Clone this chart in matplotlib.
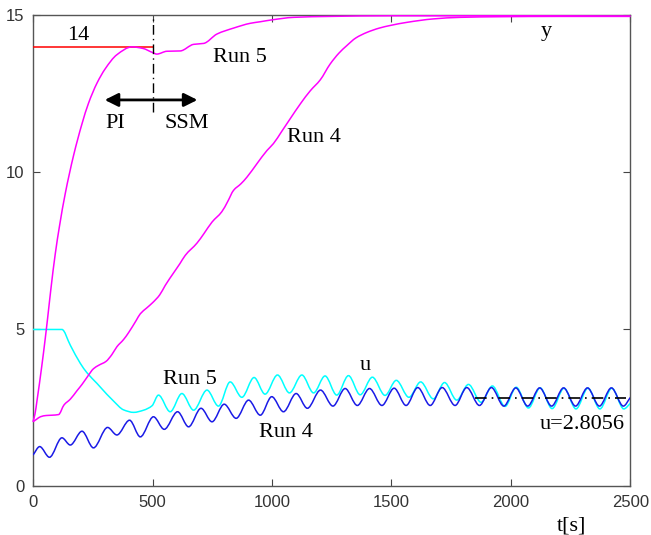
import numpy as np
import matplotlib
matplotlib.use("Agg")
import matplotlib.pyplot as plt
from matplotlib.path import Path
from matplotlib.patches import PathPatch

# ---------------- data ----------------
t_y5 = [0, 8, 17, 37, 51, 61, 75, 93, 111, 135, 170, 205, 232, 268, 302, 351, 414,
        460, 500, 518, 560, 616, 672, 714, 770, 840, 909, 951, 1000, 1090, 1243,
        1500, 2000, 2500]
y_run5 = [2.06, 2.3, 2.75, 3.85, 4.7, 5.35, 6.3, 7.4, 8.3, 9.33, 10.55, 11.55,
          12.2, 12.85, 13.3, 13.75, 14.0, 13.95, 13.82, 13.77, 13.86, 13.87, 14.08,
          14.11, 14.41, 14.6, 14.75, 14.8, 14.86, 14.94, 14.97, 14.99, 14.99, 14.98]

t_y4 = [0, 15, 31, 55, 80, 107, 130, 156, 184, 205, 230, 253, 275, 305, 330, 351,
        379, 400, 432, 449, 475, 500, 530, 553, 588, 615, 637, 686, 715, 749, 790,
        815, 839, 870, 895, 937, 979, 1006, 1040, 1076, 1120, 1160, 1202, 1243, 1280,
        1313, 1350, 1397, 1450, 1494, 1564, 1675, 1787, 1954, 2200, 2500]
y_run4 = [2.06, 2.14, 2.22, 2.26, 2.27, 2.29, 2.6, 2.78, 3.05, 3.25, 3.52, 3.75,
          3.86, 3.98, 4.2, 4.45, 4.68, 4.9, 5.29, 5.5, 5.68, 5.85, 6.1, 6.4, 6.8, 7.1,
          7.36, 7.75, 8.05, 8.42, 8.75, 9.08, 9.43, 9.64, 9.85, 10.28, 10.7, 10.92,
          11.3, 11.71, 12.2, 12.6, 12.95, 13.45, 13.8, 14.04, 14.28, 14.46, 14.6,
          14.68, 14.78, 14.89, 14.94, 14.96, 14.97, 14.97]

t_u5 = [0, 121, 156, 198, 226, 268, 281, 337, 379, 421, 463, 498,
        525, 574, 623, 672, 728, 776, 825, 874, 925, 971, 1023, 1073, 1125, 1174,
        1222, 1271, 1320, 1369, 1420, 1473, 1520, 1573, 1622, 1675, 1722, 1773,
        1822, 1875, 1922, 1975, 2022, 2073, 2122, 2172, 2222, 2272, 2322, 2372,
        2422, 2472, 2500]
u_run5 = [5.0, 5.0, 4.5, 3.92, 3.62, 3.28, 3.17, 2.72, 2.44, 2.36, 2.43, 2.57,
          2.91, 2.38, 2.96, 2.43, 3.07, 2.56, 3.33, 2.84, 3.47, 2.94, 3.55, 2.98,
          3.55, 2.98, 3.52, 2.91, 3.53, 2.92, 3.48, 2.90, 3.38, 2.84, 3.33, 2.79,
          3.31, 2.75, 3.25, 2.68, 3.20, 2.55, 3.16, 2.50, 3.14, 2.48, 3.13, 2.47,
          3.13, 2.47, 3.13, 2.47, 2.65]

t_u4 = [0, 28, 69, 121, 156, 205, 253, 312, 351, 404, 449, 504, 549, 605, 651, 703,
        749, 800, 850, 902, 951, 999, 1048, 1101, 1148, 1203, 1255, 1306, 1357, 1408,
        1460, 1511, 1561, 1610, 1662, 1712, 1766, 1815, 1868, 1918, 1970, 2020, 2070,
        2120, 2170, 2220, 2270, 2320, 2370, 2420, 2470, 2500]
u_run4 = [1.0, 1.27, 0.93, 1.55, 1.32, 1.76, 1.23, 1.88, 1.64, 2.11, 1.58, 2.22,
          1.82, 2.38, 1.90, 2.49, 2.06, 2.62, 2.17, 2.75, 2.27, 2.86, 2.38, 2.96,
          2.49, 3.07, 2.56, 3.12, 2.58, 3.12, 2.58, 3.13, 2.58, 3.15, 2.58, 3.15,
          2.58, 3.15, 2.58, 3.15, 2.56, 3.14, 2.56, 3.14, 2.56, 3.14, 2.56, 3.14,
          2.56, 3.14, 2.56, 2.84]

ref_t = [0, 500]
ref_y = [14, 14]
switch_t = [500, 500]
switch_y = [11.92, 15]
uss_t = [1850, 2480]
uss_val = 2.8056

x_ticks = [0, 500, 1000, 1500, 2000, 2500]
y_ticks = [0, 5, 10, 15]


def smooth_path(x, y):
    """Monotone cubic (PCHIP-style) curve through the points, as Bezier path."""
    x = np.asarray(x, float)
    y = np.asarray(y, float)
    h = np.diff(x)
    d = np.diff(y) / h
    n = len(x)
    m = np.zeros(n)
    m[0] = d[0]
    m[-1] = d[-1]
    for i in range(1, n - 1):
        if d[i - 1] * d[i] <= 0:
            m[i] = 0.0
        else:
            w1 = 2 * h[i] + h[i - 1]
            w2 = h[i] + 2 * h[i - 1]
            m[i] = (w1 + w2) / (w1 / d[i - 1] + w2 / d[i])
    verts = [(x[0], y[0])]
    codes = [Path.MOVETO]
    for i in range(n - 1):
        hh = h[i]
        verts += [(x[i] + hh / 3, y[i] + m[i] * hh / 3),
                  (x[i + 1] - hh / 3, y[i + 1] - m[i + 1] * hh / 3),
                  (x[i + 1], y[i + 1])]
        codes += [Path.CURVE4] * 3
    return Path(verts, codes)


fig = plt.figure(figsize=(6.51, 5.35), dpi=100)
ax = fig.add_axes([0.0507, 0.0907, 0.9178, 0.8804])

serif = "Liberation Serif"
magenta = "#ff00ff"
cyan = "#00ffff"
blue = "#1a1ae6"
lw = 1.1

ax.add_patch(PathPatch(smooth_path(t_u5, u_run5), fill=False, edgecolor=cyan,
                       lw=lw, zorder=3))
ax.add_patch(PathPatch(smooth_path(t_u4, u_run4), fill=False, edgecolor=blue,
                       lw=lw, zorder=3.1))
ax.add_patch(PathPatch(smooth_path(t_y4, y_run4), fill=False, edgecolor=magenta,
                       lw=lw, zorder=3.2, clip_on=False))
ax.add_patch(PathPatch(smooth_path(t_y5, y_run5), fill=False, edgecolor=magenta,
                       lw=lw, zorder=3.2, clip_on=False))

ax.plot(ref_t, ref_y, color="#ff0000", lw=lw, zorder=3)
ax.plot(switch_t, switch_y, color="black", lw=1.0, ls=(0, (7, 3, 1, 3)), zorder=4,
        clip_on=False)
ax.plot(uss_t, [uss_val, uss_val], color="black", lw=1.2, ls=(0, (7, 3, 1, 3)),
        zorder=4)

ax.annotate("", xy=(300, 12.31), xytext=(688, 12.31),
            arrowprops=dict(arrowstyle="<|-|>", color="black", lw=2.0,
                            mutation_scale=20, shrinkA=0, shrinkB=0))

fs = 16
ax.text(190, 14.05, "14", family=serif, fontsize=fs, ha="center", va="bottom")
ax.text(344, 11.55, "PI", family=serif, fontsize=fs, ha="center", va="center")
ax.text(644, 11.55, "SSM", family=serif, fontsize=fs, ha="center", va="center")
ax.text(867, 13.65, "Run 5", family=serif, fontsize=fs, ha="center", va="center")
ax.text(1174, 11.1, "Run 4", family=serif, fontsize=fs, ha="center", va="center")
ax.text(2149, 14.5, "y", family=serif, fontsize=fs, ha="center", va="center")
ax.text(1390, 3.85, "u", family=serif, fontsize=fs, ha="center", va="center")
ax.text(658, 3.4, "Run 5", family=serif, fontsize=fs, ha="center", va="center")
ax.text(1058, 1.72, "Run 4", family=serif, fontsize=fs, ha="center", va="center")
ax.text(2477, 1.98, "u=2.8056", family=serif, fontsize=fs, ha="right", va="center")
ax.text(2254, -1.25, "t[s]", family=serif, fontsize=fs, ha="center", va="center",
        clip_on=False)

ax.set_xlim(0, 2500)
ax.set_ylim(0, 15)
ax.set_xticks(x_ticks)
ax.set_yticks(y_ticks)
ax.tick_params(direction="in", length=5, width=0.8, top=True, right=True,
               labelsize=12, labelcolor="#333333", color="#444444", pad=6)
for lab in ax.get_xticklabels() + ax.get_yticklabels():
    lab.set_family("Liberation Sans")
for sp in ax.spines.values():
    sp.set_color("#555555")
    sp.set_linewidth(1.0)

fig.savefig("out.png", dpi=100)
